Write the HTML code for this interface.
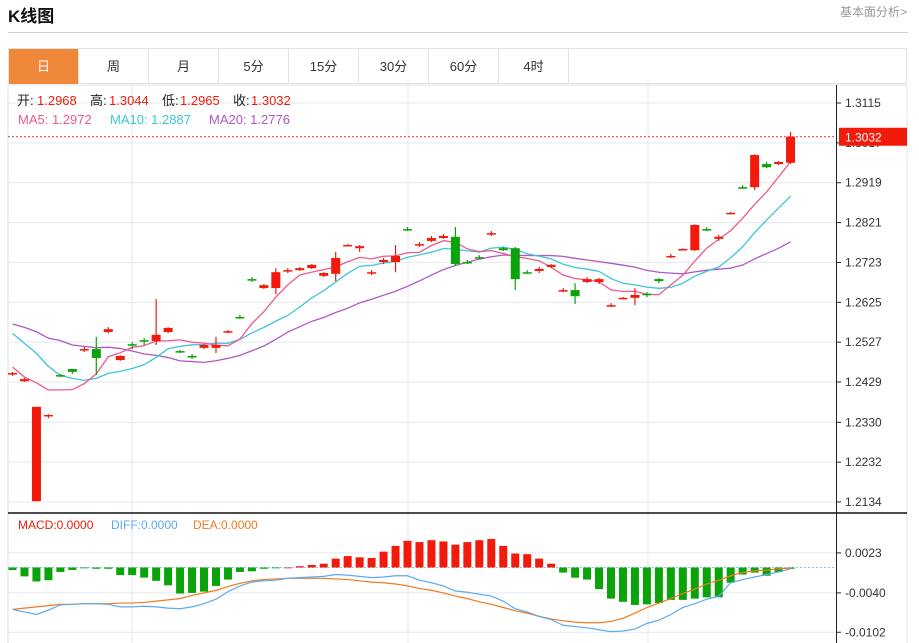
<!DOCTYPE html>
<html><head><meta charset="utf-8">
<style>
body{margin:0;background:#fff;width:919px;height:643px;overflow:hidden;font-family:"Liberation Sans","Noto Sans CJK SC",sans-serif;}
#wrap{position:relative;width:919px;height:643px;}
.title{position:absolute;left:8px;top:2px;font-size:17px;font-weight:bold;color:#111;}
.more{position:absolute;left:840px;top:3px;font-size:12px;color:#999;}
.hr{position:absolute;left:8px;top:32px;width:900px;height:1px;background:#d0d0d0;}
.tabs{position:absolute;left:8px;top:48px;width:899px;height:36px;border:1px solid #e3e3e3;box-sizing:border-box;}
.tab{position:absolute;top:0;height:35px;width:70px;line-height:35px;text-align:center;font-size:13px;color:#333;border-right:1px solid #e3e3e3;box-sizing:border-box;}
.tab.on{background:#f0883a;color:#fff;}
svg{position:absolute;left:0;top:0;}
</style></head><body>
<div id="wrap">
<div class="title">K线图</div>
<div class="more">基本面分析&gt;</div>
<div class="hr"></div>
<div class="tabs">
<div class="tab on" style="left:0">日</div>
<div class="tab" style="left:70px">周</div>
<div class="tab" style="left:140px">月</div>
<div class="tab" style="left:210px">5分</div>
<div class="tab" style="left:280px">15分</div>
<div class="tab" style="left:350px">30分</div>
<div class="tab" style="left:420px">60分</div>
<div class="tab" style="left:490px">4时</div>
</div>
<svg id="chart" width="919" height="643"></svg>
</div>
<script>
const opens=[1.2449,1.2431,1.2136,1.2347,1.2446,1.2461,1.2509,1.2510,1.2552,1.2483,1.2522,1.2532,1.2530,1.2552,1.2505,1.2493,1.2513,1.2513,1.2553,1.2589,1.2682,1.2660,1.2660,1.2703,1.2704,1.2709,1.2690,1.2695,1.2765,1.2758,1.2698,1.2724,1.2724,1.2805,1.2767,1.2776,1.2783,1.2786,1.2724,1.2736,1.2794,1.2758,1.2758,1.2699,1.2702,1.2712,1.2654,1.2655,1.2675,1.2675,1.2617,1.2635,1.2636,1.2646,1.2682,1.2737,1.2754,1.2753,1.2805,1.2781,1.2844,1.2908,1.2908,1.2965,1.2965,1.2968];
const highs=[1.2454,1.2439,1.2368,1.2350,1.2449,1.2461,1.2515,1.2540,1.2564,1.2495,1.2527,1.2537,1.2633,1.2564,1.2508,1.2498,1.2522,1.2540,1.2557,1.2594,1.2687,1.2670,1.2709,1.2709,1.2712,1.2719,1.2699,1.2749,1.2768,1.2766,1.2704,1.2734,1.2766,1.2810,1.2773,1.2788,1.2793,1.2810,1.2729,1.2741,1.2800,1.2761,1.2761,1.2704,1.2712,1.2719,1.2660,1.2672,1.2687,1.2685,1.2623,1.2638,1.2660,1.2650,1.2685,1.2744,1.2758,1.2817,1.2810,1.2791,1.2847,1.2913,1.2989,1.2970,1.2972,1.3044];
const lows=[1.2444,1.2429,1.2136,1.2340,1.2441,1.2449,1.2503,1.2446,1.2549,1.2481,1.2510,1.2520,1.2520,1.2549,1.2500,1.2486,1.2510,1.2500,1.2549,1.2584,1.2675,1.2658,1.2645,1.2697,1.2702,1.2707,1.2687,1.2677,1.2763,1.2749,1.2692,1.2719,1.2699,1.2800,1.2761,1.2773,1.2781,1.2714,1.2719,1.2731,1.2788,1.2751,1.2655,1.2695,1.2697,1.2709,1.2650,1.2621,1.2672,1.2670,1.2613,1.2633,1.2618,1.2638,1.2672,1.2734,1.2753,1.2751,1.2800,1.2776,1.2842,1.2904,1.2901,1.2955,1.2962,1.2965];
const closes=[1.2451,1.2436,1.2368,1.2348,1.2445,1.2454,1.2510,1.2488,1.2559,1.2493,1.2521,1.2531,1.2545,1.2562,1.2504,1.2492,1.2520,1.2520,1.2554,1.2588,1.2681,1.2667,1.2699,1.2704,1.2709,1.2717,1.2697,1.2734,1.2766,1.2763,1.2699,1.2729,1.2739,1.2804,1.2768,1.2783,1.2788,1.2719,1.2723,1.2735,1.2795,1.2753,1.2682,1.2698,1.2707,1.2717,1.2655,1.2640,1.2682,1.2682,1.2618,1.2636,1.2643,1.2644,1.2677,1.2739,1.2756,1.2815,1.2804,1.2786,1.2845,1.2907,1.2987,1.2957,1.2970,1.3032];
const priorCloses=[1.2604,1.2584,1.2663,1.2564,1.2670,1.2579,1.2557,1.2530,1.2559,1.2640,1.2682,1.2613,1.2667,1.2667,1.2527,1.2559,1.2439,1.2436,1.2444];
const priceTicks=[1.3115,1.3017,1.2919,1.2821,1.2723,1.2625,1.2527,1.2429,1.2330,1.2232,1.2134];
const macdHist=[-0.0004,-0.0014,-0.0022,-0.0020,-0.0007,-0.0004,-0.0001,-0.0002,-0.0002,-0.0012,-0.0012,-0.0016,-0.0021,-0.0028,-0.0041,-0.0040,-0.0038,-0.0029,-0.0019,-0.0007,-0.0006,-0.0002,-0.0001,0.0000,0.0002,0.0004,0.0006,0.0014,0.0018,0.0016,0.0015,0.0025,0.0034,0.0042,0.0040,0.0043,0.0041,0.0036,0.0040,0.0043,0.0045,0.0034,0.0022,0.0021,0.0014,0.0006,-0.0008,-0.0016,-0.0019,-0.0034,-0.0049,-0.0054,-0.0059,-0.0058,-0.0056,-0.0051,-0.0051,-0.0049,-0.0047,-0.0047,-0.0024,-0.0011,-0.0008,-0.0013,-0.0007,-0.0002];
const diffLine=[-0.0066,-0.0070,-0.0074,-0.0067,-0.0059,-0.0058,-0.0057,-0.0057,-0.0058,-0.0062,-0.0062,-0.0061,-0.0062,-0.0064,-0.0065,-0.0062,-0.0057,-0.0050,-0.0038,-0.0029,-0.0023,-0.0021,-0.0020,-0.0017,-0.0016,-0.0015,-0.0014,-0.0011,-0.0012,-0.0014,-0.0016,-0.0015,-0.0013,-0.0013,-0.0020,-0.0024,-0.0029,-0.0037,-0.0039,-0.0042,-0.0045,-0.0053,-0.0065,-0.0070,-0.0077,-0.0082,-0.0091,-0.0093,-0.0095,-0.0098,-0.0101,-0.0100,-0.0097,-0.0088,-0.0083,-0.0074,-0.0063,-0.0057,-0.0050,-0.0045,-0.0024,-0.0019,-0.0015,-0.0011,-0.0007,-0.0002];
const deaLine=[-0.0066,-0.0064,-0.0062,-0.0060,-0.0058,-0.0058,-0.0057,-0.0057,-0.0057,-0.0056,-0.0056,-0.0055,-0.0053,-0.0051,-0.0049,-0.0044,-0.0040,-0.0036,-0.0030,-0.0025,-0.0021,-0.0019,-0.0018,-0.0017,-0.0017,-0.0017,-0.0017,-0.0018,-0.0019,-0.0021,-0.0023,-0.0024,-0.0026,-0.0029,-0.0033,-0.0036,-0.0040,-0.0045,-0.0049,-0.0054,-0.0058,-0.0063,-0.0068,-0.0072,-0.0077,-0.0081,-0.0084,-0.0086,-0.0087,-0.0087,-0.0085,-0.0080,-0.0072,-0.0063,-0.0056,-0.0049,-0.0041,-0.0034,-0.0026,-0.0020,-0.0013,-0.0008,-0.0005,-0.0004,-0.0002,-0.0001];
const macdTicks=[0.0023,-0.0040,-0.0102];

const NS='http://www.w3.org/2000/svg';
const svg=document.getElementById('chart');
function mk(tag,attrs,parent){const e=document.createElementNS(NS,tag);for(const k in attrs)e.setAttribute(k,attrs[k]);(parent||svg).appendChild(e);return e;}
const L=8,R=836,PT=85,PB=512;
const yP=p=>103+(1.3115-p)/(1.3115-1.2134)*399;
const xI=i=>12.5+i*11.97;
const yM=v=>567.5-v/0.0063*40;
const RED='#f21a0a',GREEN='#0aa30a';

// grid
const grid=mk('g',{});


[132,408,648].forEach(x=>{mk('line',{x1:x,y1:PT,x2:x,y2:643,stroke:'#e3e8ee','stroke-width':1},grid);});
mk('line',{x1:L,y1:PT,x2:L,y2:643,stroke:'#dde2e8','stroke-width':1},grid);
mk('line',{x1:L,y1:PT,x2:907,y2:PT,stroke:'#e3e3e3'},grid);
mk('line',{x1:907,y1:PT,x2:907,y2:643,stroke:'#e3e3e3'},grid);
priceTicks.forEach(p=>{mk('line',{x1:L,y1:yP(p),x2:R,y2:yP(p),stroke:'#e3e8ee'},grid);});
macdTicks.forEach(v=>{mk('line',{x1:L,y1:yM(v),x2:R,y2:yM(v),stroke:'#e3e8ee'},grid);});

// y axis
const ax=mk('g',{});


mk('line',{x1:R+0.5,y1:PT,x2:R+0.5,y2:643,stroke:'#222'},ax);
mk('line',{x1:L,y1:PB+1,x2:907,y2:PB+1,stroke:'#111','stroke-width':1.5},ax);
priceTicks.forEach(p=>{
  mk('line',{x1:R,y1:yP(p),x2:R+5,y2:yP(p),stroke:'#222'},ax);
  const t=mk('text',{x:845,y:yP(p)+4,'font-size':12,fill:'#333'},ax);t.textContent=p.toFixed(4);
  
  
});
macdTicks.forEach(v=>{
  mk('line',{x1:R,y1:yM(v),x2:R+5,y2:yM(v),stroke:'#222'},ax);
  const t=mk('text',{x:845,y:yM(v)+4,'font-size':12,fill:'#333'},ax);t.textContent=v.toFixed(4);
  
  
});

// moving averages
const allC=priorCloses.concat(closes);
function ma(n){const out=[];for(let i=0;i<closes.length;i++){const j=i+priorCloses.length;let s=0;for(let k=j-n+1;k<=j;k++)s+=allC[k];out.push(s/n);}return out;}
[[20,'#b057c8','ma20-line'],[10,'#3cc6d8','ma10-line'],[5,'#ec5a8f','ma5-line']].forEach(([n,c,name])=>{
  const m=ma(n);
  const pl=mk('polyline',{points:m.map((v,i)=>xI(i)+','+yP(v)).join(' '),fill:'none',stroke:c,'stroke-width':1.3});
  
  
});

// candles
const cg=mk('g',{});


closes.forEach((c,i)=>{
  const o=opens[i],col=c>=o?RED:GREEN,x=xI(i);
  const g=mk('g',{},cg);
  
  
  mk('line',{x1:x,y1:yP(highs[i]),x2:x,y2:yP(lows[i]),stroke:col,'stroke-width':1.2},g);
  const top=Math.min(yP(o),yP(c)),h=Math.max(1.5,Math.abs(yP(o)-yP(c)));
  mk('rect',{x:x-4.5,y:top,width:9,height:h,fill:col},g);
});

// last price line & tag
const last=closes[closes.length-1];
const lp=mk('line',{x1:L,y1:yP(last),x2:R,y2:yP(last),stroke:'#f03030','stroke-dasharray':'2,2','stroke-width':1});


const tagG=mk('g',{});


mk('rect',{x:839,y:yP(last)-9,width:68,height:18,fill:RED},tagG);
const tt=mk('text',{x:845,y:yP(last)+4.5,'font-size':12,fill:'#fff'},tagG);tt.textContent=last.toFixed(4);

// MACD
mk('line',{x1:L,y1:yM(0),x2:R,y2:yM(0),stroke:'#8cc8e8','stroke-dasharray':'2,2'});
const mg=mk('g',{});


macdHist.forEach((v,i)=>{
  const y0=yM(0),y1=yM(v);
  const r=mk('rect',{x:xI(i)-4,y:Math.min(y0,y1),width:8,height:Math.max(0.8,Math.abs(y1-y0)),fill:v>=0?RED:GREEN},mg);
  
  
});
[[deaLine,'#f07a20','dea-line'],[diffLine,'#5aaaf0','diff-line']].forEach(([arr,c,name])=>{
  const pl=mk('polyline',{points:arr.map((v,i)=>xI(i)+','+yM(v)).join(' '),fill:'none',stroke:c,'stroke-width':1.2});
  
  
});

// legends
function txt(x,y,s,c,size,name){const t=mk('text',{x:x,y:y,'font-size':size,fill:c});t.textContent=s;


return t;}
const lg=[['开:',17,'#222'],['1.2968',37,RED],['高:',90,'#222'],['1.3044',109,RED],['低:',162,'#222'],['1.2965',180,RED],['收:',233,'#222'],['1.3032',251,RED]];
lg.forEach(([s,x,c])=>txt(x,105,s,c,13,'ohlc-legend'));
txt(18,124,'MA5: 1.2972','#ec5a8f',13,'ma5-legend');
txt(110,124,'MA10: 1.2887','#3cc6d8',13,'ma10-legend');
txt(209,124,'MA20: 1.2776','#b057c8',13,'ma20-legend');
txt(18,529,'MACD:0.0000',RED,12,'macd-legend');
txt(111,529,'DIFF:0.0000','#5aaaf0',12,'diff-legend');
txt(193,529,'DEA:0.0000','#f07a20',12,'dea-legend');
</script>
</body></html>
